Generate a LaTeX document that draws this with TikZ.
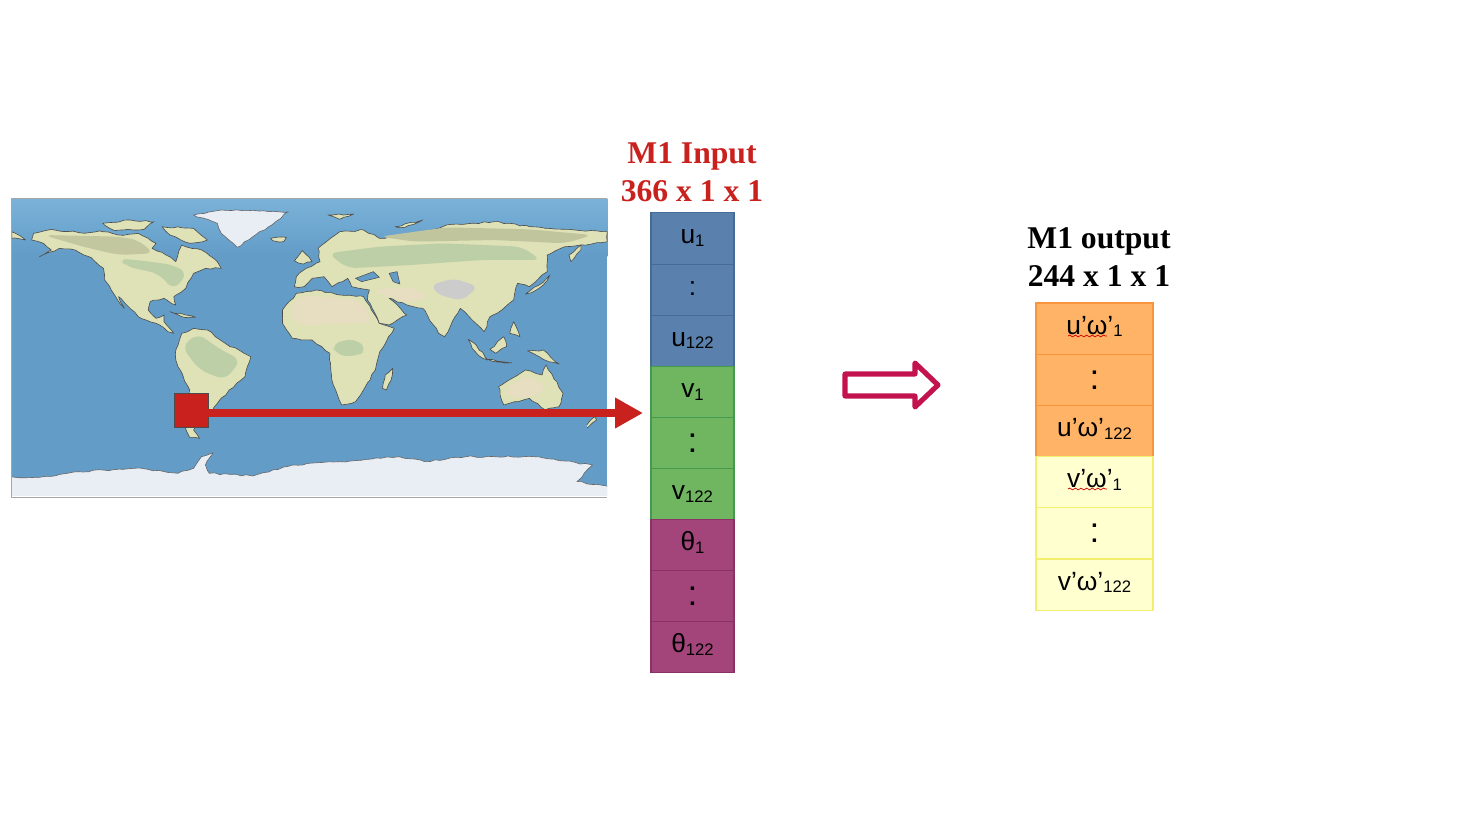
\documentclass[tikz,border=0pt]{standalone}
\usepackage{fontspec}
\setmainfont{Liberation Serif}
\newfontfamily\cellfont{Liberation Sans}
\usetikzlibrary{arrows.meta,positioning,decorations.pathmorphing}
\definecolor{titlered}{HTML}{C9211E}
\definecolor{ublue}{HTML}{5A80AD}
\definecolor{ublueline}{HTML}{466C96}
\definecolor{vgreen}{HTML}{70B560}
\definecolor{vgreenline}{HTML}{439A50}
\definecolor{tpurple}{HTML}{A3457A}
\definecolor{tpurpleline}{HTML}{8A3166}
\definecolor{uorange}{HTML}{FFB366}
\definecolor{uorangeline}{HTML}{F7963C}
\definecolor{vyellow}{HTML}{FFFFD0}
\definecolor{vyellowline}{HTML}{F3EE6E}
\definecolor{ocean}{HTML}{629CC7}
\definecolor{oceantop}{HTML}{7AB2D8}
\definecolor{landbase}{HTML}{DEE2B6}
\definecolor{landgreen}{HTML}{B7CCA4}
\definecolor{landdry}{HTML}{E9DDC2}
\definecolor{icewhite}{HTML}{E9EDF4}
\definecolor{crimson}{HTML}{C2134F}
\newcommand\low[1]{\raisebox{-0.2ex}{\fontsize{9.5}{11}\selectfont #1}}
\newcommand\bigcolon{\raisebox{-2.2pt}{\fontsize{20}{22}\selectfont :}}
\tikzset{
  cellbase/.style={line width=0.6pt,inner sep=0pt,outer sep=0pt,text height=9.2pt,text depth=3pt,font=\cellfont\fontsize{15}{18}\selectfont},
  incell/.style={cellbase,draw=#1,minimum width=1.66cm,minimum height=1.022cm},
  outcell/.style={cellbase,draw=#1,minimum width=2.34cm,minimum height=1.024cm},
  title/.style={align=center,font=\bfseries\fontsize{18}{21.6}\selectfont},
  rough/.style={decorate,decoration={random steps,segment length=3pt,amplitude=0.5pt}},
  land/.style={fill=landbase,draw=black!70,line width=0.35pt,line join=round,rough},
  ice/.style={fill=icewhite,draw=black!60,line width=0.35pt,line join=round,rough},
  green/.style={fill=landgreen,rounded corners=5pt,opacity=0.85},
  dry/.style={fill=landdry,rounded corners=5pt,opacity=0.9},
  spell/.style={draw=red!80!black,line width=0.4pt,decorate,decoration={snake,amplitude=0.5pt,segment length=3.2pt}},
}
\begin{document}
\begin{tikzpicture}[x=0.02cm,y=-0.02cm]
\useasboundingbox (0,0) rectangle (1467,818);

% map, typed in the pixels of a crop
\begin{scope}[shift={(0,190)},x=0.00791cm,y=-0.00667cm]
\clip (29,25) rectangle (1537,918);
\shade[top color=oceantop,bottom color=ocean] (29,25) rectangle (1537,200);
\fill[ocean] (29,199) rectangle (1537,918);
% north america
\draw[land] (85,130)--(130,118)--(200,128)--(260,125)--(300,135)--(350,130)--(395,160)--(385,175)--(420,195)--(445,215)--(460,165)--(510,180)--(550,215)--(560,235)--(520,235)--(490,250)--(470,295)--(440,320)--(445,345)--(415,325)--(380,335)--(375,360)--(395,385)--(415,375)--(415,395)--(440,430)--(425,425)--(395,400)--(350,380)--(325,350)--(300,320)--(315,355)--(290,315)--(265,270)--(262,235)--(225,200)--(190,180)--(150,175)--(100,200)--(130,180)--(110,160)--(80,150)--cycle;
\fill[green] (300,205)--(380,215)--(440,225)--(475,250)--(440,300)--(400,250)--(320,230)--cycle;
\fill[black!12!landbase,rounded corners=5pt] (110,135)--(300,140)--(350,150)--(390,190)--(300,195)--(210,170)--cycle;
% south america
\draw[land] (445,480)--(460,430)--(490,415)--(525,420)--(570,460)--(635,500)--(620,560)--(580,600)--(550,640)--(530,680)--(500,690)--(490,720)--(505,745)--(480,742)--(468,710)--(480,600)--(445,510)--cycle;
\fill[green] (460,470)--(500,430)--(560,480)--(610,510)--(570,570)--(505,540)--cycle;
% africa
\draw[land] (715,360)--(750,310)--(800,300)--(860,315)--(920,320)--(960,400)--(998,415)--(960,490)--(950,540)--(920,600)--(900,635)--(865,645)--(840,570)--(835,490)--(790,450)--(740,445)--(715,400)--cycle;
\fill[dry] (730,365)--(760,315)--(860,325)--(915,330)--(945,400)--(840,400)--(760,410)--cycle;
\fill[green] (840,460)--(900,445)--(930,480)--(900,500)--(850,495)--cycle;
\draw[land] (968,595)--(975,555)--(994,535)--(990,570)--(978,600)--cycle; % madagascar
% eurasia
\draw[land] (745,290)--(750,260)--(775,235)--(810,215)--(805,175)--(860,125)--(920,120)--(960,145)--(1080,125)--(1130,105)--(1250,95)--(1340,110)--(1430,118)--(1537,125)--(1537,155)--(1470,165)--(1430,170)--(1385,195)--(1385,245)--(1340,290)--(1310,280)--(1300,330)--(1270,360)--(1240,380)--(1225,425)--(1195,390)--(1165,355)--(1125,440)--(1110,430)--(1070,355)--(1030,345)--(985,325)--(1030,375)--(985,405)--(960,400)--(930,330)--(935,300)--(890,290)--(880,265)--(840,290)--(820,260)--(790,265)--(770,290)--cycle;
\fill[green] (830,190)--(960,170)--(1120,160)--(1320,170)--(1370,210)--(1220,210)--(1040,225)--(880,235)--cycle;
\fill[black!13!landbase,rounded corners=5pt] (960,140)--(1130,112)--(1340,118)--(1500,135)--(1430,160)--(1250,150)--(1050,155)--cycle;
\fill[dry] (940,300)--(1040,290)--(1090,320)--(1030,340)--(985,320)--cycle;
\fill[black!20,rounded corners=4pt] (1090,285)--(1150,265)--(1210,290)--(1170,332)--(1110,315)--cycle;
\fill[ocean,draw=black!70,line width=0.3pt] (985,250)--(1005,245)--(1012,282)--(995,275)--cycle; % caspian
\fill[ocean,draw=black!70,line width=0.3pt] (900,265)--(945,245)--(960,262)--(915,275)--cycle; % black sea
% islands
\draw[land] (1440,195)--(1470,165)--(1470,180)--(1445,215)--cycle;
\draw[land] (1330,312)--(1380,270)--(1392,255)--(1375,285)--(1345,308)--cycle; % japan
\draw[land] (1185,448)--(1205,465)--(1235,510)--(1222,505)--(1195,475)--cycle;
\draw[land] (1240,478)--(1275,440)--(1282,470)--(1255,490)--cycle;
\draw[land] (1335,482)--(1375,480)--(1415,522)--(1375,508)--cycle; % new guinea
\draw[land] (1290,430)--(1300,395)--(1316,440)--cycle;
\draw[land] (1235,508)--(1295,518)--(1260,516)--cycle;
\draw[land] (745,212)--(765,182)--(790,215)--(768,222)--cycle;
\draw[land] (685,145)--(725,142)--(718,155)--(690,152)--cycle;
\draw[land] (430,365)--(470,375)--(495,382)--(460,380)--cycle;
\draw[land] (1000,110)--(1070,90)--(1025,112)--cycle;
\draw[land] (830,75)--(895,72)--(860,88)--cycle;
\draw[land] (260,100)--(330,90)--(390,95)--(365,118)--(290,122)--cycle;
\draw[land] (410,110)--(490,115)--(525,150)--(480,160)--(430,135)--cycle;
\draw[land] (30,125)--(65,150)--(30,145)--cycle;
% australia
\draw[land] (1262,590)--(1330,540)--(1372,555)--(1382,525)--(1425,610)--(1415,650)--(1380,660)--(1340,625)--(1275,645)--cycle;
\fill[dry] (1275,595)--(1340,555)--(1385,590)--(1360,620)--(1285,625)--cycle;
\draw[land] (1485,705)--(1505,680)--(1510,690)--(1492,708)--cycle;
% greenland and antarctica
\draw[ice] (490,75)--(560,60)--(730,65)--(680,110)--(640,140)--(600,172)--(560,130)--(550,100)--cycle;
\draw[ice] (10,950)--(10,862)--(100,862)--(170,850)--(260,840)--(360,835)--(450,850)--(490,835)--(510,800)--(540,788)--(520,825)--(530,850)--(640,858)--(740,825)--(860,815)--(1010,800)--(1075,815)--(1180,800)--(1350,800)--(1500,825)--(1460,875)--(1560,895)--(1560,950)--cycle;
\end{scope}
\draw[black!35,line width=0.5pt] (607,198)--(11.5,198)--(11.5,497)--(607,497);

% input column
\foreach \name/\txt/\col [count=\i from 0] in {
  ua/u\low{1}/ublue,ub/:/ublue,uc/u\low{122}/ublue,
  va/v\low{1}/vgreen,vb/\bigcolon/vgreen,vc/v\low{122}/vgreen,
  ta/θ\low{1}/tpurple,tb/\bigcolon/tpurple,tc/θ\low{122}/tpurple}
  \node[incell=\col line,fill=\col] (\name) at (692.5,{238.5+51.1*\i}) {\txt};

% output column
\foreach \name/\txt/\col [count=\i from 0] in {
  pa/u’ω’\low{1}/uorange,pb/\bigcolon/uorange,pc/u’ω’\low{122}/uorange,
  qa/v’ω’\low{1}/vyellow,qb/\bigcolon/vyellow,qc/v’ω’\low{122}/vyellow}
  \node[outcell=\col line,fill=\col] (\name) at (1094.5,{328.6+51.2*\i}) {\txt};

\draw[spell] (1068,336)--(1107,336);
\draw[spell] (1068,489)--(1107,489);

\node[title,text=titlered] (intitle) at (692,172.5) {M1 Input\\366 x 1 x 1};
\node[title] (outtitle) at (1099,257.5) {M1 output\\244 x 1 x 1};

% patch and long arrow
\node[draw=black!70,fill=titlered,line width=0.5pt,minimum width=0.68cm,minimum height=0.68cm,inner sep=0pt,outer sep=0pt] (patch) at (191,410.5) {};
\coordinate (patchend) at (643,413);
\draw[titlered,line width=9*0.5669pt,-{Triangle[length=28*0.5669pt,width=29*0.5669pt]}] (patch.east |- patchend)--(patchend);

% hollow arrow
\draw[crimson,line width=2.9pt,line join=round] (845,374)--(915,374)--(915,363)--(938,385)--(915,407)--(915,396)--(845,396)--cycle;
\end{tikzpicture}
\end{document}
